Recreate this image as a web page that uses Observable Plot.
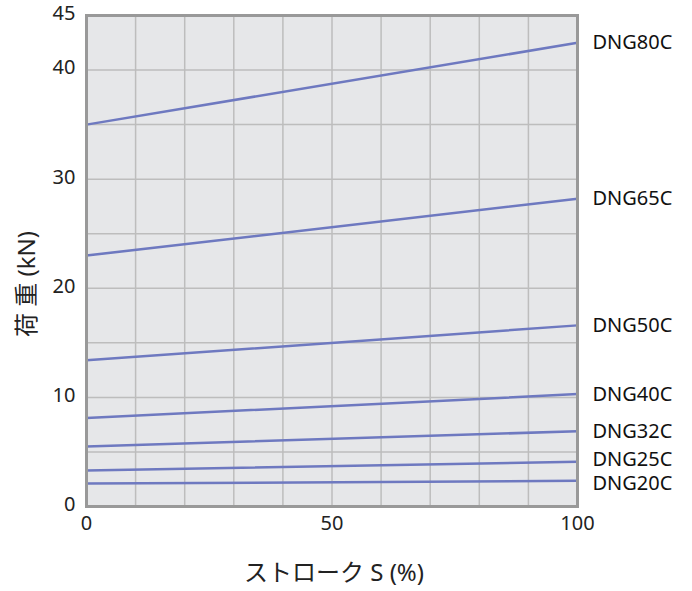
<!DOCTYPE html>
<html>
<head>
<meta charset="utf-8">
<script src="https://cdn.jsdelivr.net/npm/d3@7"></script>
<script src="https://cdn.jsdelivr.net/npm/@observablehq/plot@0.6"></script>
<style>
  html, body { margin: 0; padding: 0; background: #fff; }
  #chart svg { display: block; }
</style>
</head>
<body>
<div id="chart"></div>
<script>
const models = ["DNG80C", "DNG65C", "DNG50C", "DNG40C", "DNG32C", "DNG25C", "DNG20C"];
const strokePct = [0, 100];
const loadAt0 = [35.0, 23.0, 13.4, 8.1, 5.5, 3.3, 2.1];
const loadAt100 = [42.5, 28.2, 16.6, 10.3, 6.9, 4.1, 2.35];
const yTicks = [0, 10, 20, 30, 40, 45];
const xTicks = [0, 50, 100];
const xGrid = d3.range(0, 101, 10);
const yGrid = d3.range(0, 46, 5);

const rows = [];
models.forEach((m, i) => {
  rows.push({model: m, s: strokePct[0], load: loadAt0[i]});
  rows.push({model: m, s: strokePct[1], load: loadAt100[i]});
});
const ends = rows.filter(d => d.s === 100);
const lowest = models[models.length - 1];
const secondLowest = models[models.length - 2];

const font = "'Noto Sans', 'Noto Sans CJK JP', sans-serif";

const chart = Plot.plot({
  width: 692,
  height: 591,
  marginLeft: 86,
  marginRight: 115,
  marginTop: 15,
  marginBottom: 85,
  style: {fontFamily: font, fontSize: "20px", color: "#222", background: "#fff"},
  x: {domain: [0, 100]},
  y: {domain: [0, 45]},
  marks: [
    Plot.frame({fill: "#e6e7e9"}),
    Plot.ruleX(xGrid, {stroke: "#bdbdbd", strokeWidth: 1.5}),
    Plot.ruleY(yGrid, {stroke: "#bdbdbd", strokeWidth: 1.5}),
    Plot.line(rows, {x: "s", y: "load", z: "model", stroke: "#6e79c0", strokeWidth: 2.5}),
    Plot.text(ends.filter(d => d.model !== lowest && d.model !== secondLowest), {x: "s", y: "load", text: "model", textAnchor: "start", dx: 15, fontSize: 20, fill: "#111"}),
    Plot.text(ends.filter(d => d.model === secondLowest), {x: "s", y: "load", text: "model", textAnchor: "start", dx: 15, dy: -2.5, fontSize: 20, fill: "#111"}),
    Plot.text(ends.filter(d => d.model === lowest), {x: "s", y: "load", text: "model", textAnchor: "start", dx: 15, dy: 3, fontSize: 20, fill: "#111"}),
    Plot.frame({stroke: "#999", strokeWidth: 3}),
    Plot.axisY(yTicks, {tickSize: 0, tickPadding: 11, fontSize: 20, dy: -2, label: null}),
    Plot.axisX(xTicks, {tickSize: 0, tickPadding: 9, fontSize: 20, label: null}),
    Plot.text(["荷 重 (kN)"], {frameAnchor: "left", textAnchor: "middle", lineAnchor: "middle", rotate: -90, dx: -59, dy: 23, fontSize: 24, fill: "#222"}),
    Plot.text(["ストローク S (%)"], {frameAnchor: "bottom", textAnchor: "middle", lineAnchor: "middle", dy: 67, dx: 2, fontSize: 24, fill: "#222"})
  ]
});
document.getElementById("chart").appendChild(chart);
</script>
</body>
</html>
